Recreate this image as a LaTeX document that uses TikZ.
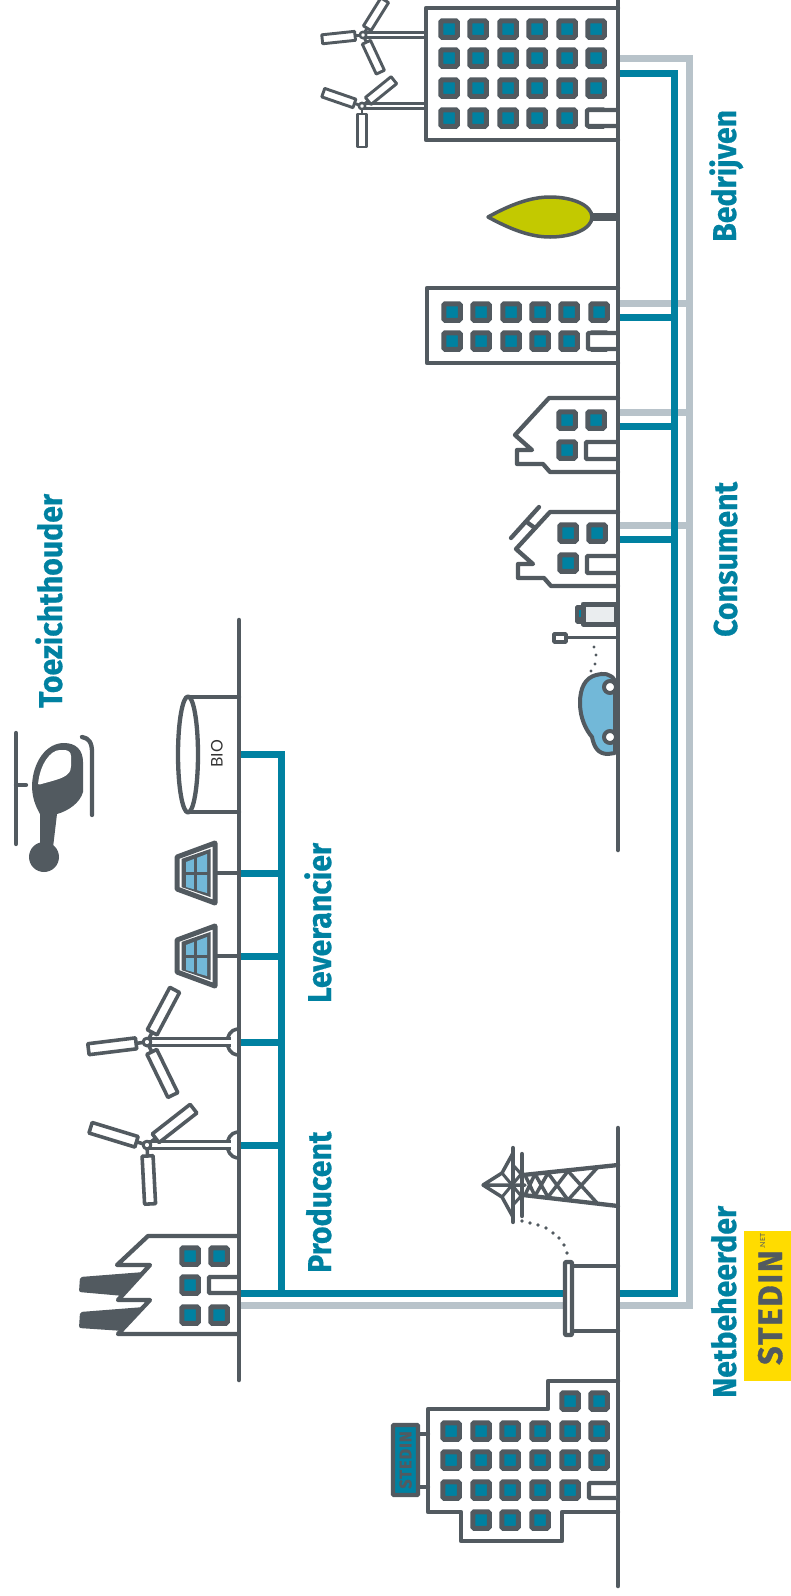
\documentclass[tikz,border=0pt]{standalone}
\usepackage{fontspec}
\setmainfont{Fira Sans}
\newfontfamily\labelfont[FakeStretch=0.915,FakeBold=0.6]{Fira Sans Bold}
\newfontfamily\logofont[FakeStretch=0.95,LetterSpace=6,FakeBold=1]{Fira Sans Bold}
\newfontfamily\thinfont{Lato}
\definecolor{slate}{HTML}{525A60}
\definecolor{netteal}{HTML}{0081A1}
\definecolor{netgrey}{HTML}{B8C3CA}
\definecolor{skyblue}{HTML}{72B8D8}
\definecolor{treegreen}{HTML}{C3C900}
\definecolor{logoyellow}{HTML}{FFDC00}
\tikzset{
  outline/.style={draw=slate,line width=4.3,line join=round,line cap=round},
  thinline/.style={draw=slate,line width=3,line join=round},
  winbox/.style={draw=slate,fill=netteal,line width=5,rounded corners=1.5},
  doorbox/.style={draw=slate,fill=white,line width=4.3,rounded corners=1},
  blade/.style={draw=slate,fill=white,line join=round},
  teal/.style={draw=netteal,line width=7},
  greyline/.style={draw=netgrey,line width=7},
  role/.style={text=netteal,font=\labelfont\fontsize{33}{33}\selectfont,rotate=90,anchor=base west,inner sep=0},
  dot/.style={fill=slate},
}
\newcommand{\win}[2]{\draw[winbox] (#1-8.25,#2-8.25) rectangle (#1+8.25,#2+8.25);}
\newcommand{\mill}[8]{% hub x, hub y, foot x, half width, r1, r2, half blade, three angles
  \fill[white] (#1,#2-#4) rectangle (#3,#2+#4);
  \draw[draw=slate,line width=#4] (#1,#2-#4) -- (#3,#2-#4) (#1,#2+#4) -- (#3,#2+#4);
  \foreach \ang in {#8} {
    \draw[draw=slate,line width=#7*0.65,shift={(#1,#2)},rotate=\ang] (0,0) -- (#5,0);
    \draw[blade,line width=#7*0.65,shift={(#1,#2)},rotate=\ang] (#5,-#7) rectangle (#6,#7);
  }
  \draw[blade,line width=#7*0.55] (#1,#2) circle (#7*0.7);
}
\newcommand{\panel}[1]{
  \draw[thinline,line width=4] (215,#1) -- (239,#1);
  \draw[outline,fill=white,line width=5] (215,#1-30) -- (177,#1-16) -- (177,#1+16) -- (215,#1+30) -- cycle;
  \draw[draw=slate,fill=slate,line width=3] (209,#1-22) -- (183,#1-13) -- (183,#1+13) -- (209,#1+22) -- cycle;
  \fill[skyblue] (207,#1-19) -- (186,#1-11) -- (186,#1+14) -- (207,#1+20) -- cycle;
  \draw[draw=slate,line width=3] (195,#1-18) -- (195,#1+18) (183,#1) -- (209,#1);
}
\begin{document}
\begin{tikzpicture}[x=1pt,y=-1pt]
\clip (0,0) rectangle (791,1596);
\fill[white] (0,0) rectangle (791,1596);

% network
\coordinate (busl) at (239,1293);
\draw[greyline] (239,1305) -- (689,1305) -- (689,58) -- (618,58);
\foreach \y in {303,412,525} {
  \draw[greyline] (618,\y) -- (689,\y);
}
\draw[teal] (busl) -- (674,1293) -- (674,73) -- (618,73);
\foreach \y in {317,426,539} {
  \draw[teal] (618,\y) -- (674,\y);
}
\draw[teal] (239,754) -- (281,754) -- (281,1293);
\foreach \y in {873,956,1042,1145} {
  \draw[teal] (239,\y) -- (281,\y);
}

% office with mills
\mill{363}{35}{424}{2.5}{8}{41}{4.5}{186,58,-65}
\mill{362}{106}{424}{2.5}{8}{41}{4.5}{161,39,-90}
\draw[outline] (618,8) -- (426,8) -- (426,140) -- (618,140);
\foreach \y in {29,58,88,118} {
  \foreach \x in {449,478,508,537,567,596} {
    \win{\x}{\y}
  }
}
\draw[doorbox] (618,110) -- (587,110) -- (587,126) -- (618,126);

% tree
\draw[slate,line width=8] (590,217) -- (618,217);
\draw[outline,fill=treegreen,line width=3.5] (488,217) .. controls (510,205) and (530,197) .. (550,197) .. controls (572,197) and (592,205) .. (592,217) .. controls (592,229) and (572,237) .. (550,237) .. controls (530,237) and (510,229) .. (488,217) -- cycle;

% second office
\draw[outline] (618,288) -- (427,288) -- (427,363) -- (618,363);
\foreach \y in {312,341} {
  \foreach \x in {452,481,511,540,569,599} {
    \win{\x}{\y}
  }
}
\draw[doorbox] (618,333) -- (588,333) -- (588,349) -- (618,349);

% houses
\draw[outline] (618,398) -- (549,398) -- (515,435) -- (532,450) -- (517,450) -- (517,464) -- (543,464) -- (550,472) -- (618,472);
\win{567}{420}
\win{596}{420}
\win{567}{450}
\draw[doorbox] (618,442) -- (586,442) -- (586,459) -- (618,459);
\draw[outline] (618,512) -- (550,512) -- (516,549) -- (533,564) -- (518,564) -- (518,578) -- (544,578) -- (551,586) -- (618,586);
\win{568}{533}
\win{597}{533}
\win{568}{563}
\draw[doorbox] (618,556) -- (587,556) -- (587,573) -- (618,573);
\draw[outline] (539,507) -- (511,538) (528,523) -- (535,528);

% charger and car
\draw[outline,fill=slate,line width=3.5] (582,607) -- (577,607) -- (577,622) -- (582,622);
\draw[netteal,line width=2] (580,610) -- (580,617);
\draw[outline,fill=netgrey!30,line width=5] (583,604) rectangle (616,624);
\draw[thinline] (618,637) -- (567,637);
\draw[outline,fill=white,line width=3.5] (554,634) rectangle (566,642);
\foreach \x/\y in {594/647,596/655,595/664,591/671} {
  \fill[dot] (\x,\y) circle (1.7);
}
\draw[outline,fill=skyblue,line width=4] (615,681) .. controls (611,673) and (603,673) .. (596,675) .. controls (585,678) and (580,688) .. (580,703) .. controls (580,718) and (586,730) .. (592,737) .. controls (594,747) and (598,754) .. (608,754) -- (615,753) -- cycle;
\draw[outline,fill=white,line width=4] (610,687) circle (6);
\draw[outline,fill=white,line width=4] (610,737) circle (6);

% factory
\fill[slate,rounded corners=2] (144,1272) -- (80,1277) -- (79,1292) -- (124,1296) -- cycle;
\fill[slate,rounded corners=2] (144,1307) -- (80,1312) -- (79,1328) -- (124,1331) -- cycle;
\draw[outline,fill=white] (237,1236) -- (148,1236) -- (117,1265) -- (150,1265) -- (118,1300) -- (150,1300) -- (118,1334) -- (237,1334);
\foreach \y in {1256,1285,1315} {
  \win{190}{\y}
}
\win{219}{1256}
\win{219}{1315}
\draw[doorbox] (237,1277) -- (209,1277) -- (209,1293) -- (237,1293);

% big mills
\draw[outline,fill=white,line width=3.5] (237,1029) .. controls (224,1031) and (224,1053) .. (237,1055);
\draw[outline,fill=white,line width=3.5] (237,1132) .. controls (224,1134) and (224,1156) .. (237,1158);
\mill{147}{1042}{231}{3.5}{11}{59}{5.5}{187,62,-64}
\mill{147}{1145}{231}{3.5}{11}{59}{5.5}{163,38,-87}

% solar panels
\panel{873}
\panel{956}

% bio tank
\draw[outline] (188,697) -- (239,697) (188,812) -- (239,812);
\draw[outline,fill=white] (188,754.5) ellipse (10 and 58);
\node (bio) at (217,754) [rotate=90,font=\thinfont\fontsize{16}{16}\selectfont,text=black!80,inner sep=0] {BIO};

% ground lines
\draw[outline,line width=4.5] (618,0) -- (618,850);
\draw[outline,line width=4.5] (618,1128) -- (618,1586);
\draw[outline,line width=4.5] (239,620) -- (239,1380);

% helicopter
\draw[outline] (16,733) -- (16,844) (16,785) -- (26,785);
\fill[slate] (64,743) .. controls (76,743) and (83,750) .. (83,762) -- (83,792) .. controls (80,803) and (68,811) .. (57,814) -- (52,856) -- (40,856) -- (40,814) .. controls (35,805) and (32,797) .. (32,785) .. controls (33,762) and (46,743) .. (64,743) -- cycle;
\fill[slate] (44,857) circle (15);
\fill[white,rounded corners=2] (38,785) .. controls (40,765) and (50,750) .. (62,750) .. controls (68,750) and (71,752) .. (71,758) -- (71,768) .. controls (68,778) and (55,780) .. (38,785) -- cycle;
\draw[outline] (82,737) .. controls (89,738) and (92,743) .. (92,752) -- (92,815);

% pylon
\draw[outline] (618,1165) -- (523,1175) (618,1206) -- (523,1195);
\draw[thinline,line width=3.5] (597,1168) -- (568,1200) (597,1203) -- (568,1171) (568,1171) -- (548,1197) (568,1200) -- (548,1173) (548,1173) -- (535,1196) (548,1197) -- (535,1174) (535,1174) -- (525,1195) (535,1196) -- (525,1175);
\draw[outline] (513,1148) -- (513,1222) (522,1154) -- (522,1216);
\draw[outline,line width=3.5] (483,1185) -- (502,1173) -- (513,1153) (483,1185) -- (502,1197) -- (513,1217) (483,1185) -- (525,1185);
\draw[thinline] (502,1173) -- (522,1197) (502,1197) -- (522,1173) (513,1165) -- (522,1175) (513,1205) -- (522,1195);
\foreach \x/\y in {567/1253,564/1245,559/1238,553/1233,546/1228,538/1225,530/1223,522/1221} {
  \fill[dot] (\x,\y) circle (1.8);
}

% transformer
\draw[outline,fill=white] (618,1266) -- (572,1266) -- (572,1331) -- (618,1331);
\draw[outline,fill=white,rounded corners=1] (565,1262) rectangle (572,1335);
\draw[outline,line width=4.5] (618,1250) -- (618,1350);

% head office
\draw[outline] (618,1381) -- (548,1381) -- (548,1409) -- (428,1409) -- (428,1512) -- (461,1512) -- (461,1541) -- (562,1541) -- (562,1512) -- (618,1512);
\win{570}{1401}
\win{599}{1401}
\foreach \y in {1431,1460} {
  \foreach \x in {451,481,510,540,570,599} {
    \win{\x}{\y}
  }
}
\foreach \x in {451,481,510,540,570} {
  \win{\x}{1490}
}
\foreach \x in {481,510,540} {
  \win{\x}{1520}
}
\draw[doorbox] (616,1483) -- (589,1483) -- (589,1498) -- (616,1498);
\draw[outline] (419,1434) -- (428,1434) (419,1487) -- (428,1487);
\node (sign) at (405.5,1460) [draw=slate,fill=netteal,line width=4.3,rounded corners=1,minimum width=25,minimum height=70,inner sep=0] {};
\node (signtext) at (sign.center) [rotate=90,text=slate,font=\logofont\fontsize{17}{17}\selectfont,inner sep=0] {STEDIN};

% labels
\node (bedrijven) at (736,242) [role] {Bedrijven};
\node (consument) at (737,637) [role] {Consument};
\node (netbeheerder) at (736,1398) [role] {Netbeheerder};
\node (leverancier) at (331,1003) [role] {Leverancier};
\node (producent) at (331,1273) [role] {Producent};
\node (toezicht) at (62,708) [role] {Toezichthouder};

% logo
\node (logo) at (767.5,1306) [fill=logoyellow,minimum width=47,minimum height=150,inner sep=0] {};
\node (logotext) at (782,1365) [rotate=90,anchor=base west,text=slate,font=\logofont\fontsize{34}{34}\selectfont,inner sep=0] {STEDIN};
\node (logonet) at (765,1249) [rotate=90,anchor=base west,text=slate,font=\thinfont\fontsize{7}{7}\selectfont,inner sep=0] {.NET};
\end{tikzpicture}
\end{document}
